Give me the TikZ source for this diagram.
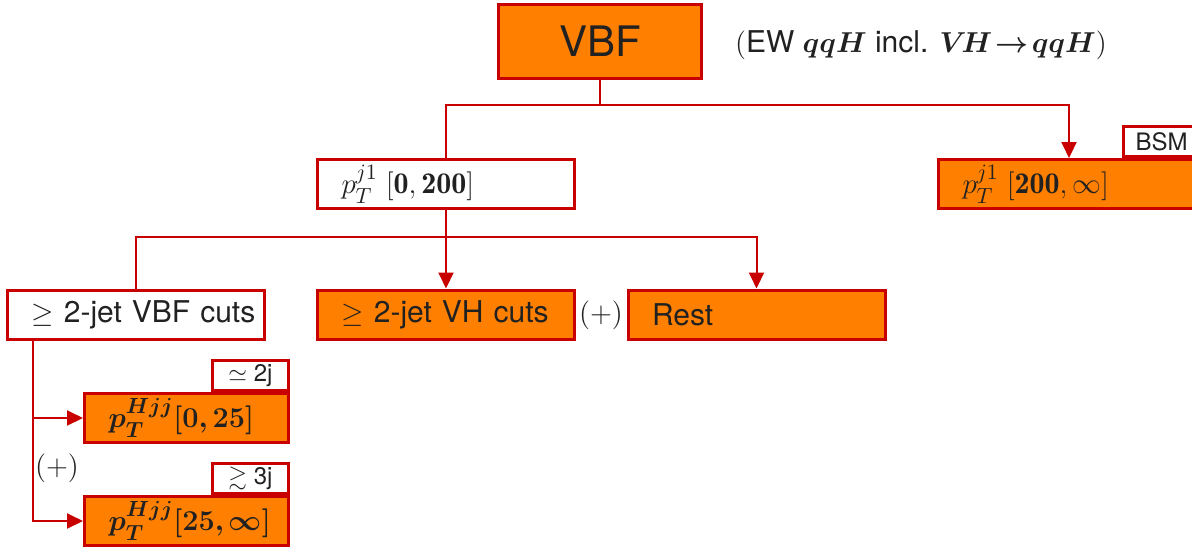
\documentclass[tikz,border=0pt]{standalone}
\usepackage{amssymb}
\usepackage{bm}
\usepackage{fontspec}
\setsansfont{TeX Gyre Heros}
\usetikzlibrary{arrows.meta}
\definecolor{vbforange}{RGB}{255,128,0}
\definecolor{vbfred}{RGB}{200,0,0}
\begin{document}
\begin{tikzpicture}[x=.5pt,y=-.5pt,font=\sffamily\fontsize{15}{18}\selectfont,text=black!87,
  catbox/.style={draw=vbfred,line width=1.5pt,fill=white,inner xsep=12pt,inner ysep=0pt,text width=#1,align=left,minimum height=24.5pt},
  catbox/.default=104.5pt,
  binned/.style={catbox=#1,fill=vbforange},
  binned/.default=104.5pt,
  tag/.style={draw=vbfred,line width=1.5pt,fill=white,font=\sffamily\fontsize{12}{14}\selectfont,minimum width=38pt,minimum height=15pt,inner sep=0pt,anchor=south east},
  link/.style={vbfred,line width=1pt},
  flow/.style={link,-{Triangle[length=8pt,width=7.5pt]}}]
\clip (0,0) rectangle (1192,552);
\node[draw=vbfred,line width=1.5pt,fill=vbforange,minimum width=101.5pt,minimum height=37pt,font=\sffamily\fontsize{21}{24}\selectfont] (vbf) at (600,41.5) {VBF};
\node[anchor=west] (vbfnote) at (728,45) {$($EW $\bm{qqH}$ incl. $\bm{V\!H\!\rightarrow\! qqH}$$)$};
\node[catbox] (lowpt) at (446,184) {$p_T^{j1}\;[\mathbf{0},\mathbf{200}]$};
\node[binned=106.5pt] (highpt) at (1069,184) {$p_T^{j1}\;[\mathbf{200},\infty]$};
\node[tag] (bsm) at (highpt.north east) {BSM};
\node[catbox] (vbfcuts) at (136,314.5) {\mbox{$\geq$ 2-jet VBF cuts}};
\node[binned] (vhcuts) at (446,314.5) {$\geq$ 2-jet VH cuts};
\node (vhplus) at (601,315) {$(+)$};
\node[binned] (rest) at (756.5,314.5) {Rest};
\node[binned=78pt] (hjjlow) at (186.5,418) {$\bm{p_T^{Hjj}[0,25]}$};
\node[tag] (twojet) at (hjjlow.north east) {$\simeq$ 2j};
\node (hjjplus) at (57,468) {$(+)$};
\node[binned=78pt] (hjjhigh) at (186.5,521) {$\bm{p_T^{Hjj}[25,\infty]}$};
\node[tag] (threejet) at (hjjhigh.north east) {$\gtrsim$ 3j};
\draw[link] (vbf.south) -- ++(0,25) -| (lowpt.north);
\draw[flow] (vbf.south) -- ++(0,25) -| (highpt.north);
\draw[link] (lowpt.south) -- ++(0,27) -| (vbfcuts.north);
\draw[flow] (lowpt.south) -- (vhcuts.north);
\draw[flow] (lowpt.south) -- ++(0,27) -| (rest.north);
\draw[flow] ([xshift=13.5pt]vbfcuts.south west) |- (hjjlow.west);
\draw[flow] ([xshift=13.5pt]vbfcuts.south west) |- (hjjhigh.west);
\end{tikzpicture}
\end{document}
